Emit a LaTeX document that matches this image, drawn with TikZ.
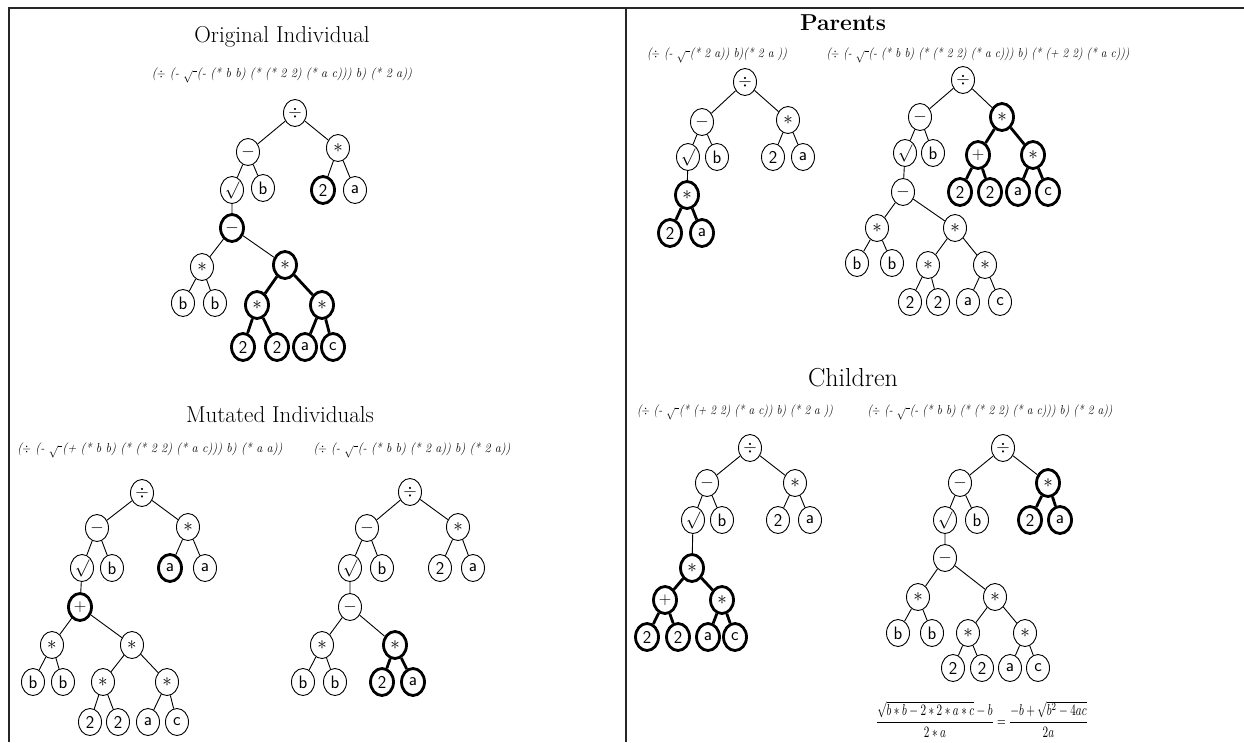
\documentclass[tikz,border=0pt]{standalone}
\usepackage{graphicx}
\usetikzlibrary{shapes.geometric}
\tikzset{
  nd/.style={ellipse,draw,fill=white,line width=0.9pt,minimum width=23pt,minimum height=27pt,inner sep=0pt,font=\fontsize{18}{18}\selectfont\sffamily},
  ndt/.style={nd,line width=2.8pt},
  ed/.style={line width=0.9pt},
  edt/.style={line width=2.8pt},
  ttl/.style={inner sep=0pt,font=\fontsize{23}{27}\selectfont},
  frame/.style={line width=1.8pt,draw=black!85},
}
% prefix expression, stretched to a given width
\newcommand\pexpr[2]{\resizebox{#1pt}{\height}{\fontsize{13}{15}\selectfont\itshape #2}}
\newcommand\rt{$\sqrt{\ }$}
% operator glyph inside tree nodes
\newcommand\op{\scalebox{1.1}{$\ast$}}
\begin{document}
\begin{tikzpicture}[x=1pt,y=-1pt]
\useasboundingbox (0,0) rectangle (1244,742);
\draw[frame] (9,742) -- (9,8) -- (1244,8);
\draw[frame] (626,8) -- (626,742);

% ---------------- Original Individual ----------------
\node[ttl] (tOrig) at (282,37) {Original Individual};
\node[inner sep=0pt] (eOrig) at (282,75) {\pexpr{260}{($\div$ (- \rt(- (* b b) (* (* 2 2) (* a c))) b) (* 2 a))}};
\node[nd]  (O0) at (295,113) {$\div$};
\node[nd]  (O1) at (248,152) {$-$};
\node[nd]  (O2) at (338,148) {\op};
\node[nd]  (O3) at (232,190) {$\surd$};
\node[nd]  (O4) at (263,188) {b};
\node[ndt] (O5) at (323,190) {2};
\node[nd]  (O6) at (355,190) {a};
\node[ndt] (O7) at (232,228) {$-$};
\node[nd]  (O8) at (202,267) {\op};
\node[ndt] (O9) at (285,265) {\op};
\node[nd]  (O10) at (183,303) {b};
\node[nd]  (O11) at (215,303) {b};
\node[ndt] (O12) at (257,305) {\op};
\node[ndt] (O13) at (322,305) {\op};
\node[ndt] (O14) at (243,347) {2};
\node[ndt] (O15) at (277,347) {2};
\node[ndt] (O16) at (305,347) {a};
\node[ndt] (O17) at (333,347) {c};
\draw[ed] (O0)--(O1) (O0)--(O2) (O1)--(O3) (O1)--(O4) (O2)--(O5) (O2)--(O6)
          (O3)--(O7) (O7)--(O8) (O7)--(O9) (O8)--(O10) (O8)--(O11);
\draw[edt] (O9)--(O12) (O9)--(O13) (O12)--(O14) (O12)--(O15) (O13)--(O16) (O13)--(O17);

% ---------------- Mutated Individuals ----------------
\node[ttl] (tMut) at (280,415) {Mutated Individuals};
\node[inner sep=0pt] (eMutA) at (150,450) {\pexpr{265}{($\div$ (- \rt(+ (* b b) (* (* 2 2) (* a c))) b) (* a a))}};
\node[inner sep=0pt] (eMutB) at (412,450) {\pexpr{197}{($\div$ (- \rt(- (* b b) (* 2 a)) b) (* 2 a))}};

\node[nd]  (M0) at (142,493) {$\div$};
\node[nd]  (M1) at (97,528) {$-$};
\node[nd]  (M2) at (188,527) {\op};
\node[nd]  (M3) at (82,568) {$\surd$};
\node[nd]  (M4) at (112,568) {b};
\node[ndt] (M5) at (170,568) {a};
\node[nd]  (M6) at (205,568) {a};
\node[ndt] (M7) at (80,607) {$+$};
\node[nd]  (M8) at (52,645) {\op};
\node[nd]  (M9) at (132,645) {\op};
\node[nd]  (M10) at (33,682) {b};
\node[nd]  (M11) at (63,682) {b};
\node[nd]  (M12) at (103,682) {\op};
\node[nd]  (M13) at (167,682) {\op};
\node[nd]  (M14) at (90,722) {2};
\node[nd]  (M15) at (118,722) {2};
\node[nd]  (M16) at (148,722) {a};
\node[nd]  (M17) at (177,722) {c};
\draw[ed] (M0)--(M1) (M0)--(M2) (M1)--(M3) (M1)--(M4) (M2)--(M5) (M2)--(M6)
          (M3)--(M7) (M7)--(M8) (M7)--(M9) (M8)--(M10) (M8)--(M11)
          (M9)--(M12) (M9)--(M13) (M12)--(M14) (M12)--(M15) (M13)--(M16) (M13)--(M17);

\node[nd]  (N0) at (410,492) {$\div$};
\node[nd]  (N1) at (367,528) {$-$};
\node[nd]  (N2) at (458,527) {\op};
\node[nd]  (N3) at (350,568) {$\surd$};
\node[nd]  (N4) at (382,568) {b};
\node[nd]  (N5) at (440,568) {2};
\node[nd]  (N6) at (473,568) {a};
\node[nd]  (N7) at (350,607) {$-$};
\node[nd]  (N8) at (322,645) {\op};
\node[ndt] (N9) at (395,645) {\op};
\node[nd]  (N10) at (303,682) {b};
\node[nd]  (N11) at (335,682) {b};
\node[ndt] (N12) at (382,682) {2};
\node[ndt] (N13) at (413,682) {a};
\draw[ed] (N0)--(N1) (N0)--(N2) (N1)--(N3) (N1)--(N4) (N2)--(N5) (N2)--(N6)
          (N3)--(N7) (N7)--(N8) (N7)--(N9) (N8)--(N10) (N8)--(N11);
\draw[edt] (N9)--(N12) (N9)--(N13);

% ---------------- Parents ----------------
\node[ttl,font=\fontsize{23}{27}\selectfont\bfseries] (tPar) at (843,23) {Parents};
\node[inner sep=0pt] (eParA) at (717,55) {\pexpr{140}{($\div$ (- \rt(* 2 a)) b)(* 2 a ))}};
\node[inner sep=0pt] (eParB) at (978,55) {\pexpr{303}{($\div$ (- \rt(- (* b b) (* (* 2 2) (* a c))) b) (* (+ 2 2) (* a c)))}};

\node[nd]  (P0) at (745,82) {$\div$};
\node[nd]  (P1) at (702,122) {$-$};
\node[nd]  (P2) at (788,120) {\op};
\node[nd]  (P3) at (688,157) {$\surd$};
\node[nd]  (P4) at (717,157) {b};
\node[nd]  (P5) at (773,157) {2};
\node[nd]  (P6) at (803,157) {a};
\node[ndt] (P7) at (687,195) {\op};
\node[ndt] (P8) at (670,233) {2};
\node[ndt] (P9) at (702,233) {a};
\draw[ed] (P0)--(P1) (P0)--(P2) (P1)--(P3) (P1)--(P4) (P2)--(P5) (P2)--(P6) (P3)--(P7);
\draw[edt] (P7)--(P8) (P7)--(P9);

\node[nd]  (Q0) at (963,80) {$\div$};
\node[nd]  (Q1) at (920,117) {$-$};
\node[ndt] (Q2) at (1002,117) {\op};
\node[nd]  (Q3) at (905,153) {$\surd$};
\node[nd]  (Q4) at (933,153) {b};
\node[ndt] (Q5) at (978,155) {$+$};
\node[ndt] (Q6) at (1033,155) {\op};
\node[ndt] (Q7) at (960,192) {2};
\node[ndt] (Q8) at (990,192) {2};
\node[ndt] (Q9) at (1018,192) {a};
\node[ndt] (Q10) at (1048,192) {c};
\node[nd]  (Q11) at (903,192) {$-$};
\node[nd]  (Q12) at (877,228) {\op};
\node[nd]  (Q13) at (955,228) {\op};
\node[nd]  (Q14) at (857,263) {b};
\node[nd]  (Q15) at (892,263) {b};
\node[nd]  (Q16) at (928,265) {\op};
\node[nd]  (Q17) at (985,265) {\op};
\node[nd]  (Q18) at (910,302) {2};
\node[nd]  (Q19) at (938,302) {2};
\node[nd]  (Q20) at (968,302) {a};
\node[nd]  (Q21) at (1000,302) {c};
\draw[ed] (Q0)--(Q1) (Q0)--(Q2) (Q1)--(Q3) (Q1)--(Q4) (Q3)--(Q11)
          (Q11)--(Q12) (Q11)--(Q13) (Q12)--(Q14) (Q12)--(Q15)
          (Q13)--(Q16) (Q13)--(Q17) (Q16)--(Q18) (Q16)--(Q19) (Q17)--(Q20) (Q17)--(Q21);
\draw[edt] (Q2)--(Q5) (Q2)--(Q6) (Q5)--(Q7) (Q5)--(Q8) (Q6)--(Q9) (Q6)--(Q10);

% ---------------- Children ----------------
\node[ttl,font=\fontsize{26}{30}\selectfont] (tChi) at (853,378) {Children};
\node[inner sep=0pt] (eChiA) at (735,412) {\pexpr{196}{($\div$ (- \rt(* (+ 2 2) (* a c)) b) (* 2 a ))}};
\node[inner sep=0pt] (eChiB) at (990,412) {\pexpr{245}{($\div$ (- \rt(- (* b b) (* (* 2 2) (* a c))) b) (* 2 a))}};

\node[nd]  (C0) at (750,448) {$\div$};
\node[nd]  (C1) at (707,483) {$-$};
\node[nd]  (C2) at (795,483) {\op};
\node[nd]  (C3) at (693,520) {$\surd$};
\node[nd]  (C4) at (722,520) {b};
\node[nd]  (C5) at (778,520) {2};
\node[nd]  (C6) at (810,520) {a};
\node[ndt] (C7) at (692,568) {\op};
\node[ndt] (C8) at (665,600) {$+$};
\node[ndt] (C9) at (722,600) {\op};
\node[ndt] (C10) at (647,637) {2};
\node[ndt] (C11) at (678,637) {2};
\node[ndt] (C12) at (708,637) {a};
\node[ndt] (C13) at (735,637) {c};
\draw[ed] (C0)--(C1) (C0)--(C2) (C1)--(C3) (C1)--(C4) (C2)--(C5) (C2)--(C6) (C3)--(C7);
\draw[edt] (C7)--(C8) (C7)--(C9) (C8)--(C10) (C8)--(C11) (C9)--(C12) (C9)--(C13);

\node[nd]  (D0) at (1003,448) {$\div$};
\node[nd]  (D1) at (960,483) {$-$};
\node[ndt] (D2) at (1048,483) {\op};
\node[nd]  (D3) at (945,520) {$\surd$};
\node[nd]  (D4) at (977,520) {b};
\node[ndt] (D5) at (1030,520) {2};
\node[ndt] (D6) at (1060,520) {a};
\node[nd]  (D7) at (945,558) {$-$};
\node[nd]  (D8) at (918,597) {\op};
\node[nd]  (D9) at (995,597) {\op};
\node[nd]  (D10) at (898,633) {b};
\node[nd]  (D11) at (932,633) {b};
\node[nd]  (D12) at (968,633) {\op};
\node[nd]  (D13) at (1025,633) {\op};
\node[nd]  (D14) at (953,668) {2};
\node[nd]  (D15) at (982,668) {2};
\node[nd]  (D16) at (1010,668) {a};
\node[nd]  (D17) at (1038,668) {c};
\draw[ed] (D0)--(D1) (D0)--(D2) (D1)--(D3) (D1)--(D4) (D3)--(D7)
          (D7)--(D8) (D7)--(D9) (D8)--(D10) (D8)--(D11)
          (D9)--(D12) (D9)--(D13) (D12)--(D14) (D12)--(D15) (D13)--(D16) (D13)--(D17);
\draw[edt] (D2)--(D5) (D2)--(D6);

\node[inner sep=0pt] (eq) at (982,719) {\resizebox*{212pt}{36pt}{$\displaystyle\frac{\sqrt{b*b-2*2*a*c}-b}{2*a}=\frac{-b+\sqrt{b^2-4ac}}{2a}$}};
\end{tikzpicture}
\end{document}
